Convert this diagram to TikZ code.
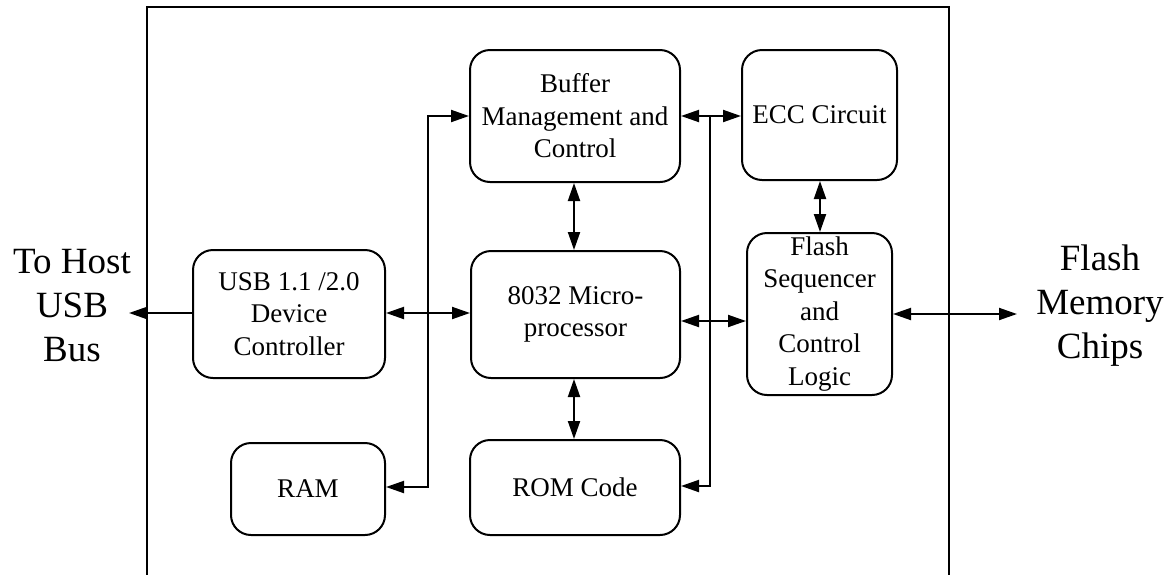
\documentclass[tikz,border=0pt]{standalone}
\usepackage{fontspec}
\setmainfont{Liberation Serif}
\usetikzlibrary{arrows.meta}
\begin{document}
\begin{tikzpicture}[x=1pt,y=-1pt,
  blk/.style={draw,line width=2pt,rounded corners=20pt,inner sep=0pt},
  blktext/.style={align=center,font=\fontsize{27}{32.5}\selectfont},
  side/.style={align=center,font=\fontsize{37}{44}\selectfont},
  conn/.style={line width=2pt},
  tip/.style={-{Triangle[length=18pt,width=12pt]}},
  dtip/.style={{Triangle[length=18pt,width=12pt]}-{Triangle[length=18pt,width=12pt]}}]
\useasboundingbox (0,0) rectangle (1175,574);
% outer frame
\draw[line width=2pt] (147,590) -- (147,7) -- (949,7) -- (949,590);
% blocks
\node[blk,minimum width=210pt,minimum height=132pt] (buf) at (575,116) {};
\node[blktext] at (buf.center) {Buffer\\Management and\\Control};
\node[blk,minimum width=155pt,minimum height=130pt] (ecc) at (819.5,115) {};
\node[blktext] at (ecc.center) {ECC Circuit};
\node[blk,minimum width=192pt,minimum height=128pt] (usb) at (289,314) {};
\node[blktext] at (usb.center) {USB 1.1 /2.0\\Device\\Controller};
\node[blk,minimum width=209pt,minimum height=127pt] (cpu) at (575.5,314.5) {};
\node[blktext] at (cpu.center) {8032 Micro-\\processor};
\node[blk,minimum width=145pt,minimum height=162pt] (fsq) at (819.5,314) {};
\node[blktext] at (fsq.center) {Flash\\Sequencer\\and\\Control\\Logic};
\node[blk,minimum width=154pt,minimum height=92pt] (ram) at (308,489) {};
\node[blktext] at (ram.center) {RAM};
\node[blk,minimum width=210pt,minimum height=95pt] (rom) at (575,487.5) {};
\node[blktext] at (rom.center) {ROM Code};
% side labels
\node[side] (host) at (72,306) {To Host\\USB\\Bus};
\node[side] (chips) at (1100,306) {Flash\\Memory\\Chips};
% coordinates
\coordinate (hostend) at (129,313);
\coordinate (chipsend) at (1017,314);
\coordinate (b1top) at (428,116);
\coordinate (b1bot) at (428,487);
\coordinate (b2top) at (710,116);
\coordinate (b2bot) at (710,486);
% connectors
\draw[conn,tip] (usb.west |- hostend) -- (hostend);
\draw[conn,dtip] (fsq.east |- chipsend) -- (chipsend);
\draw[conn,dtip] (usb.east |- 0,313) -- (cpu.west |- 0,313);
\draw[conn,dtip] (cpu.east |- 0,321) -- (fsq.west |- 0,321);
\draw[conn,dtip] (buf.east |- b2top) -- (ecc.west |- b2top);
\draw[conn,tip] (b1bot) -- (b1top) -- (buf.west |- b1top);
\draw[conn,tip] (b1top) -- (b1bot) -- (ram.east |- b1bot);
\draw[conn,tip] (b2top) -- (b2bot) -- (rom.east |- b2bot);
\draw[conn,dtip] (buf.south -| 574,0) -- (cpu.north -| 574,0);
\draw[conn,dtip] (cpu.south -| 574,0) -- (rom.north -| 574,0);
\draw[conn,dtip] (ecc.south -| 820,0) -- (fsq.north -| 820,0);
\end{tikzpicture}
\end{document}
